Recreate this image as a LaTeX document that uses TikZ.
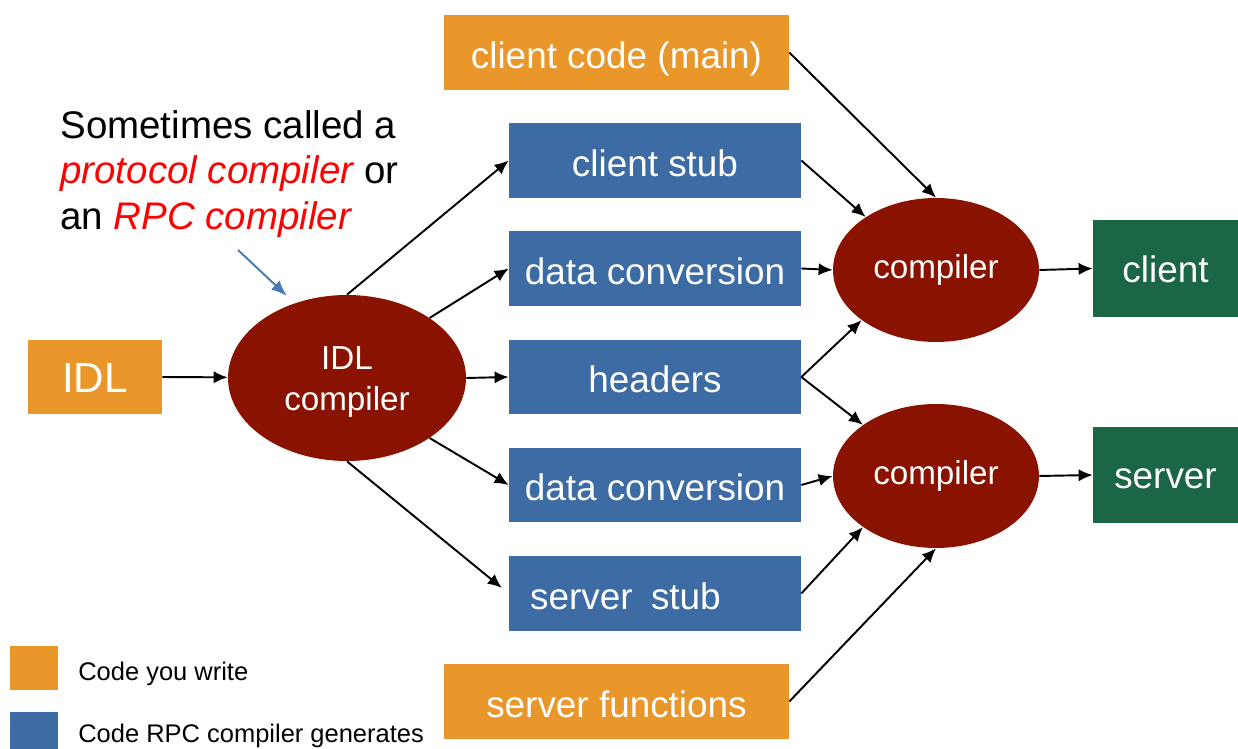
\documentclass[tikz,border=0pt]{standalone}
\usepackage{fontspec}
\setmainfont{Liberation Sans}
\usetikzlibrary{arrows.meta,shapes.geometric}
\definecolor{orng}{HTML}{E9972A}
\definecolor{blu}{HTML}{3D6BA3}
\definecolor{dred}{HTML}{8A1200}
\definecolor{grn}{HTML}{1A6645}
\definecolor{annblue}{HTML}{4A79B2}
\begin{document}
\begin{tikzpicture}[x=0.02cm,y=-0.02cm,
 box/.style={rectangle, inner sep=0, text=white, text height=18pt, text depth=0pt, font=\fontsize{21}{25}\selectfont},
 wbox/.style={box, fill=orng, minimum width=6.9cm, minimum height=1.5cm},
 gbox/.style={box, fill=blu, minimum width=5.84cm, minimum height=1.5cm},
 obox/.style={box, fill=grn, minimum width=2.9cm, minimum height=1.94cm, text height=15.5pt},
 comp/.style={ellipse, fill=dred, inner sep=0, text=white, font=\fontsize{18.9}{23}\selectfont, minimum width=4.12cm, minimum height=2.88cm},
 arr/.style={-{Latex[length=8pt,width=7pt]}, line width=1.1pt, black},
 legtext/.style={anchor=west, inner sep=0, font=\fontsize{14.5}{17}\selectfont},
]
\path[use as bounding box, clip] (0,0) rectangle (1238,749);
\fill[white] (0,0) rectangle (1238,749);

\node[wbox] (cc) at (616.5,52.5) {client code (main)};
\node[gbox] (cs) at (655,160.5) {client stub};
\node[gbox] (dc1) at (655,268.5) {data conversion};
\node[gbox] (hd) at (655,377) {headers};
\node[gbox] (dc2) at (655,485) {data conversion};
\node[gbox] (ss) at (655,593.5) {server\hspace{0.22em} stub\kern1.6em\null};
\node[wbox] (sf) at (616.5,701.5) {server functions};
\node[box, fill=orng, minimum width=2.68cm, minimum height=1.48cm, font=\fontsize{24}{28}\selectfont, text height=17.2pt] (idl) at (95,377) {IDL};
\node[comp, minimum width=4.76cm, minimum height=3.32cm, align=center] (idlc) at (347,378) {\rule{0pt}{17.5pt}IDL\\compiler};
\node[comp] (c1) at (936,270) {compiler};
\node[comp] (c2) at (936,476) {compiler};
\node[obox] (cl) at (1165.5,268.5) {client};
\node[obox] (sv) at (1165.5,475) {server};

\draw[arr] (idl.east) -- (idlc);
\draw[arr] (idlc.north) -- (cs.west);
\draw[arr] (idlc.36) -- (dc1.west);
\draw[arr] (idlc.east) -- (hd.west);
\draw[arr] (idlc.-36) -- (dc2.west);
\draw[arr, shorten >=5pt] (idlc.south) -- (ss.west);

\draw[arr] (cc.east) -- (c1.north);
\draw[arr] (cs.east) -- (c1.143);
\draw[arr] (dc1.east) -- (c1.west);
\draw[arr] (hd.east) -- (c1.214);
\draw[arr] (hd.east) -- (c2.145);
\draw[arr] (dc2.east) -- (c2.west);
\draw[arr] (ss.east) -- (c2.215);
\draw[arr] (sf.east) -- (c2.south);
\draw[arr] (c1.east) -- (cl.west);
\draw[arr] (c2.east) -- (sv.west);

\node[anchor=west, align=left, inner sep=0, font=\fontsize{21.9}{26}\selectfont] (note) at (60,174)
 {Sometimes called a\\\textcolor{red}{\itshape protocol compiler} or\\an \textcolor{red}{\itshape RPC compiler}};
\coordinate (ann) at (238,250);
\draw[-{Latex[length=9pt,width=7pt]}, annblue, line width=1.1pt, shorten >=6pt] (ann) -- (idlc.125);

\node[fill=orng, minimum width=0.96cm, minimum height=0.88cm, inner sep=0] (lo) at (34,668) {};
\node[fill=blu, minimum width=0.96cm, minimum height=0.88cm, inner sep=0] (lb) at (34,734) {};
\node[legtext] (lt1) at (78,674) {Code you write};
\node[legtext] (lt2) at (78,736) {Code RPC compiler generates};
\end{tikzpicture}
\end{document}
